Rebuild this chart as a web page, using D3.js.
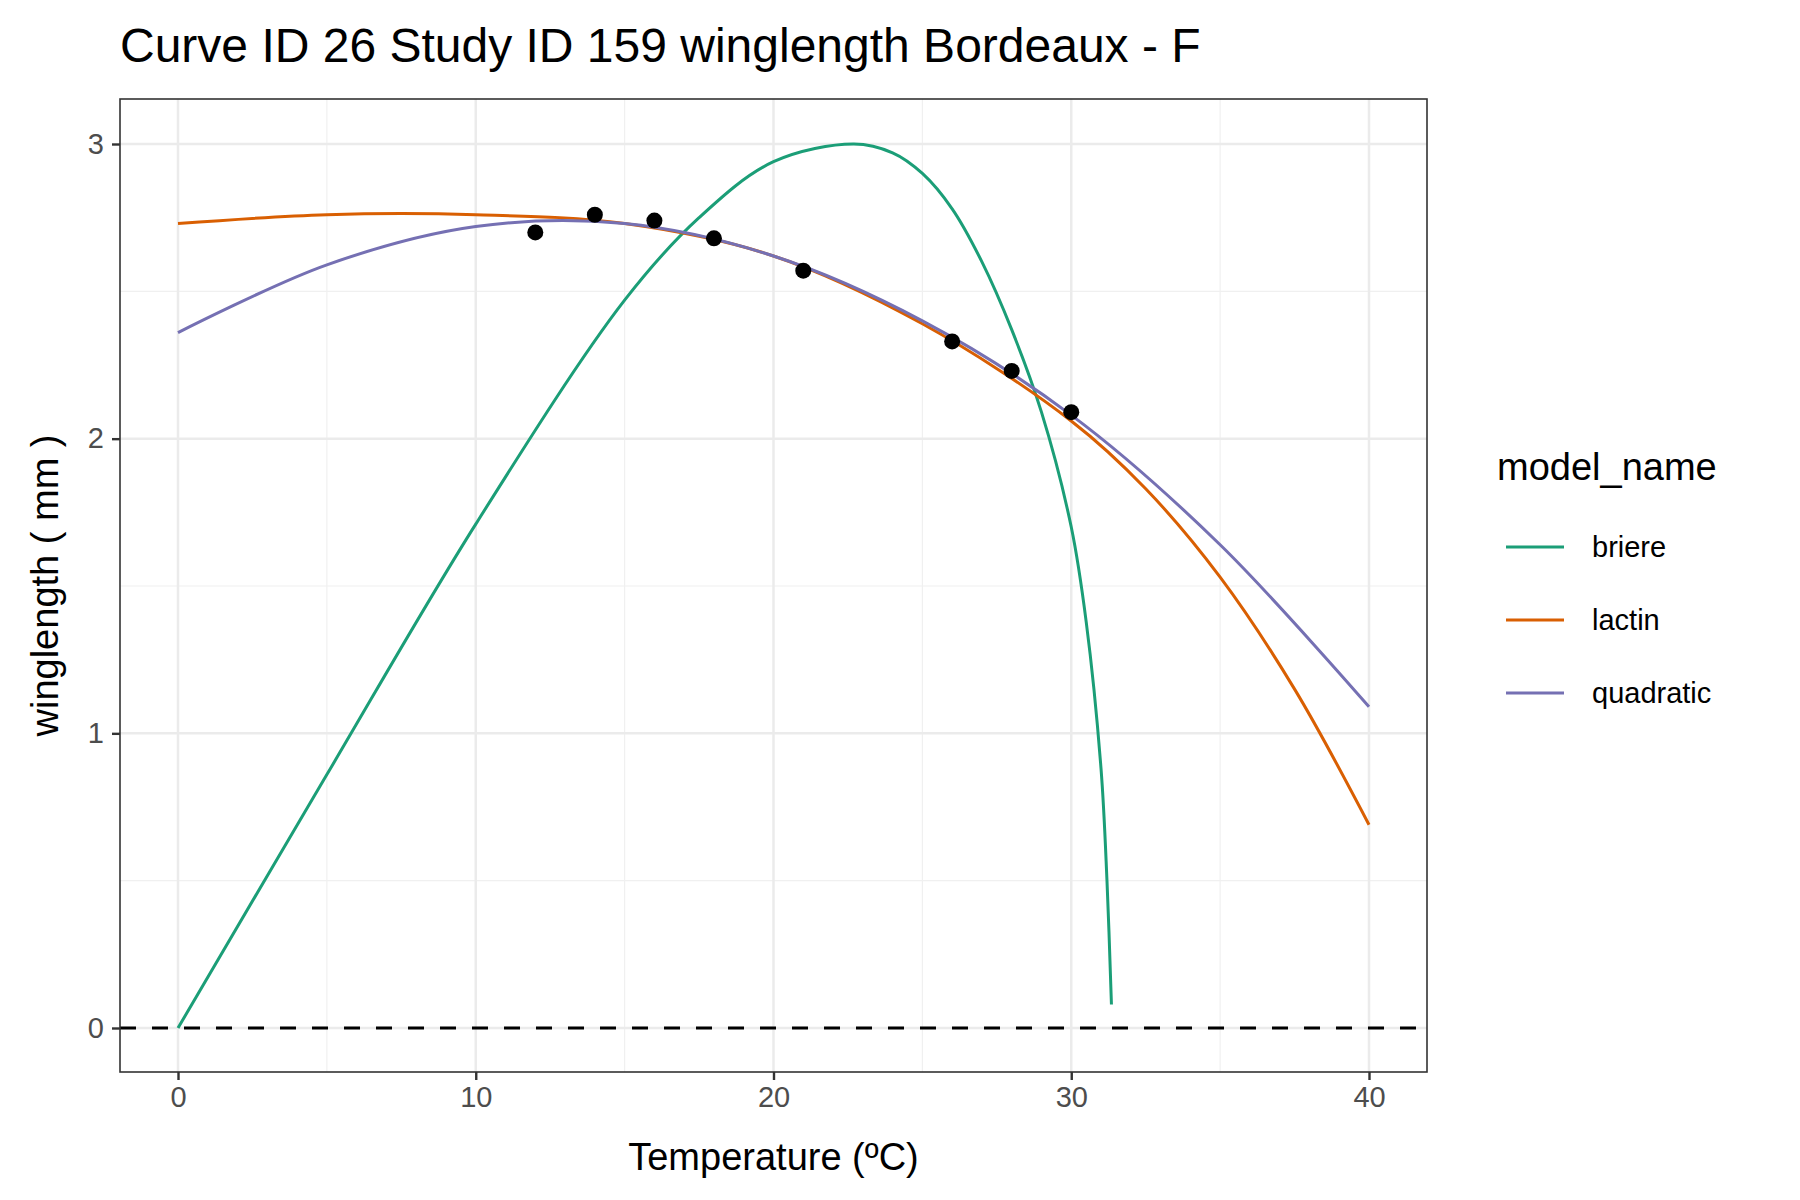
<!DOCTYPE html>
<html><head><meta charset="utf-8">
<script src="https://cdn.jsdelivr.net/npm/d3@7"></script>
<style>body{margin:0;background:#fff}text{font-family:"Liberation Sans",Arial,sans-serif}</style>
</head><body>
<script>
var obsTemp = [12, 14, 16, 18, 21, 26, 28, 30];
var obsWing = [2.70, 2.76, 2.74, 2.68, 2.57, 2.33, 2.23, 2.09];

var briereT = [0, 5, 10, 15, 17.5, 20, 22.7, 24, 25, 26, 27, 28, 29, 30, 30.5, 31, 31.2, 31.35];
var briereY = [0, 0.86, 1.71, 2.47, 2.75, 2.94, 3.0, 2.97, 2.90, 2.78, 2.60, 2.37, 2.09, 1.70, 1.38, 0.88, 0.50, 0.08];
var lactinT = [0, 5, 10, 15, 20, 25, 30, 32.5, 35, 37.5, 40];
var lactinY = [2.73, 2.76, 2.76, 2.73, 2.62, 2.39, 2.06, 1.83, 1.53, 1.15, 0.69];
var quadT = [0, 5, 10, 15, 20, 25, 30, 35, 40];
var quadY = [2.36, 2.59, 2.72, 2.73, 2.62, 2.40, 2.08, 1.64, 1.09];

var models = ["briere", "lactin", "quadratic"];
var colors = ["#1B9E77", "#D95F02", "#7570B3"];
var xTicks = [0, 10, 20, 30, 40];
var yTicks = [0, 1, 2, 3];

var W = 1800, H = 1200, L = 120, R = 1427, T = 99, B = 1072;
var svg = d3.select("body").append("svg").attr("width", W).attr("height", H);
var x = d3.scaleLinear().domain([0, 40]).range([178, 1369]);
var y = d3.scaleLinear().domain([0, 3]).range([1028, 144]);

var g = svg.append("g");
// minor grid
[5, 15, 25, 35].forEach(function(v) {
    g.append("line").attr("x1", x(v)).attr("x2", x(v)).attr("y1", T).attr("y2", B)
        .attr("stroke", "#f0f0f0").attr("stroke-width", 1.2); });
[0.5, 1.5, 2.5].forEach(function(v) {
    g.append("line").attr("x1", L).attr("x2", R).attr("y1", y(v)).attr("y2", y(v))
        .attr("stroke", "#f0f0f0").attr("stroke-width", 1.2); });
xTicks.forEach(function(v) {
    g.append("line").attr("x1", x(v)).attr("x2", x(v)).attr("y1", T).attr("y2", B)
        .attr("stroke", "#ebebeb").attr("stroke-width", 2.5); });
yTicks.forEach(function(v) {
    g.append("line").attr("x1", L).attr("x2", R).attr("y1", y(v)).attr("y2", y(v))
        .attr("stroke", "#ebebeb").attr("stroke-width", 2.5); });

// zero line
g.append("line").attr("x1", L).attr("x2", R).attr("y1", y(0)).attr("y2", y(0))
    .attr("stroke", "#000").attr("stroke-width", 2.8).attr("stroke-dasharray", "16,16");

var line = d3.line().x(function(d) { return x(d[0]); }).y(function(d) { return y(d[1]); })
    .curve(d3.curveCatmullRom.alpha(0.5));
var series = [d3.zip(briereT, briereY), d3.zip(lactinT, lactinY), d3.zip(quadT, quadY)];
series.forEach(function(s, i) {
    g.append("path").attr("d", line(s)).attr("fill", "none")
        .attr("stroke", colors[i]).attr("stroke-width", 3); });

g.selectAll("circle").data(d3.zip(obsTemp, obsWing)).enter().append("circle")
    .attr("cx", function(d) { return x(d[0]); }).attr("cy", function(d) { return y(d[1]); })
    .attr("r", 8).attr("fill", "#000");

svg.append("rect").attr("x", L).attr("y", T).attr("width", R - L).attr("height", B - T)
    .attr("fill", "none").attr("stroke", "#333").attr("stroke-width", 1.6);

var xa = svg.append("g").attr("transform", "translate(0," + B + ")")
    .call(d3.axisBottom(x).tickValues(xTicks).tickFormat(d3.format("d")).tickSize(8).tickPadding(6));
var ya = svg.append("g").attr("transform", "translate(" + L + ",0)")
    .call(d3.axisLeft(y).tickValues(yTicks).tickFormat(d3.format("d")).tickSize(8).tickPadding(8));
[xa, ya].forEach(function(a) {
    a.select(".domain").remove();
    a.selectAll(".tick line").attr("stroke", "#333").attr("stroke-width", 2.4);
    a.selectAll(".tick text").attr("fill", "#4d4d4d").style("font-size", "29px")
        .style("font-family", '"Liberation Sans",Arial,sans-serif'); });

svg.append("text").attr("x", L).attr("y", 62).style("font-size", "48px").text("Curve ID 26 Study ID 159 winglength Bordeaux - F");
svg.append("text").attr("x", (L + R) / 2).attr("y", 1170).attr("text-anchor", "middle")
    .style("font-size", "38px").text("Temperature (ºC)");
svg.append("text").attr("transform", "translate(58," + (T + B) / 2 + ") rotate(-90)")
    .attr("text-anchor", "middle").style("font-size", "38px").text("winglength ( mm )");

var lg = svg.append("g");
lg.append("text").attr("x", 1497).attr("y", 480).style("font-size", "38px").text("model_name");
models.forEach(function(m, i) {
    var yy = 547 + i * 73;
    lg.append("line").attr("x1", 1506).attr("x2", 1564).attr("y1", yy).attr("y2", yy)
        .attr("stroke", colors[i]).attr("stroke-width", 3);
    lg.append("text").attr("x", 1592).attr("y", yy + 10).style("font-size", "29px").text(m); });
</script>
</body></html>
